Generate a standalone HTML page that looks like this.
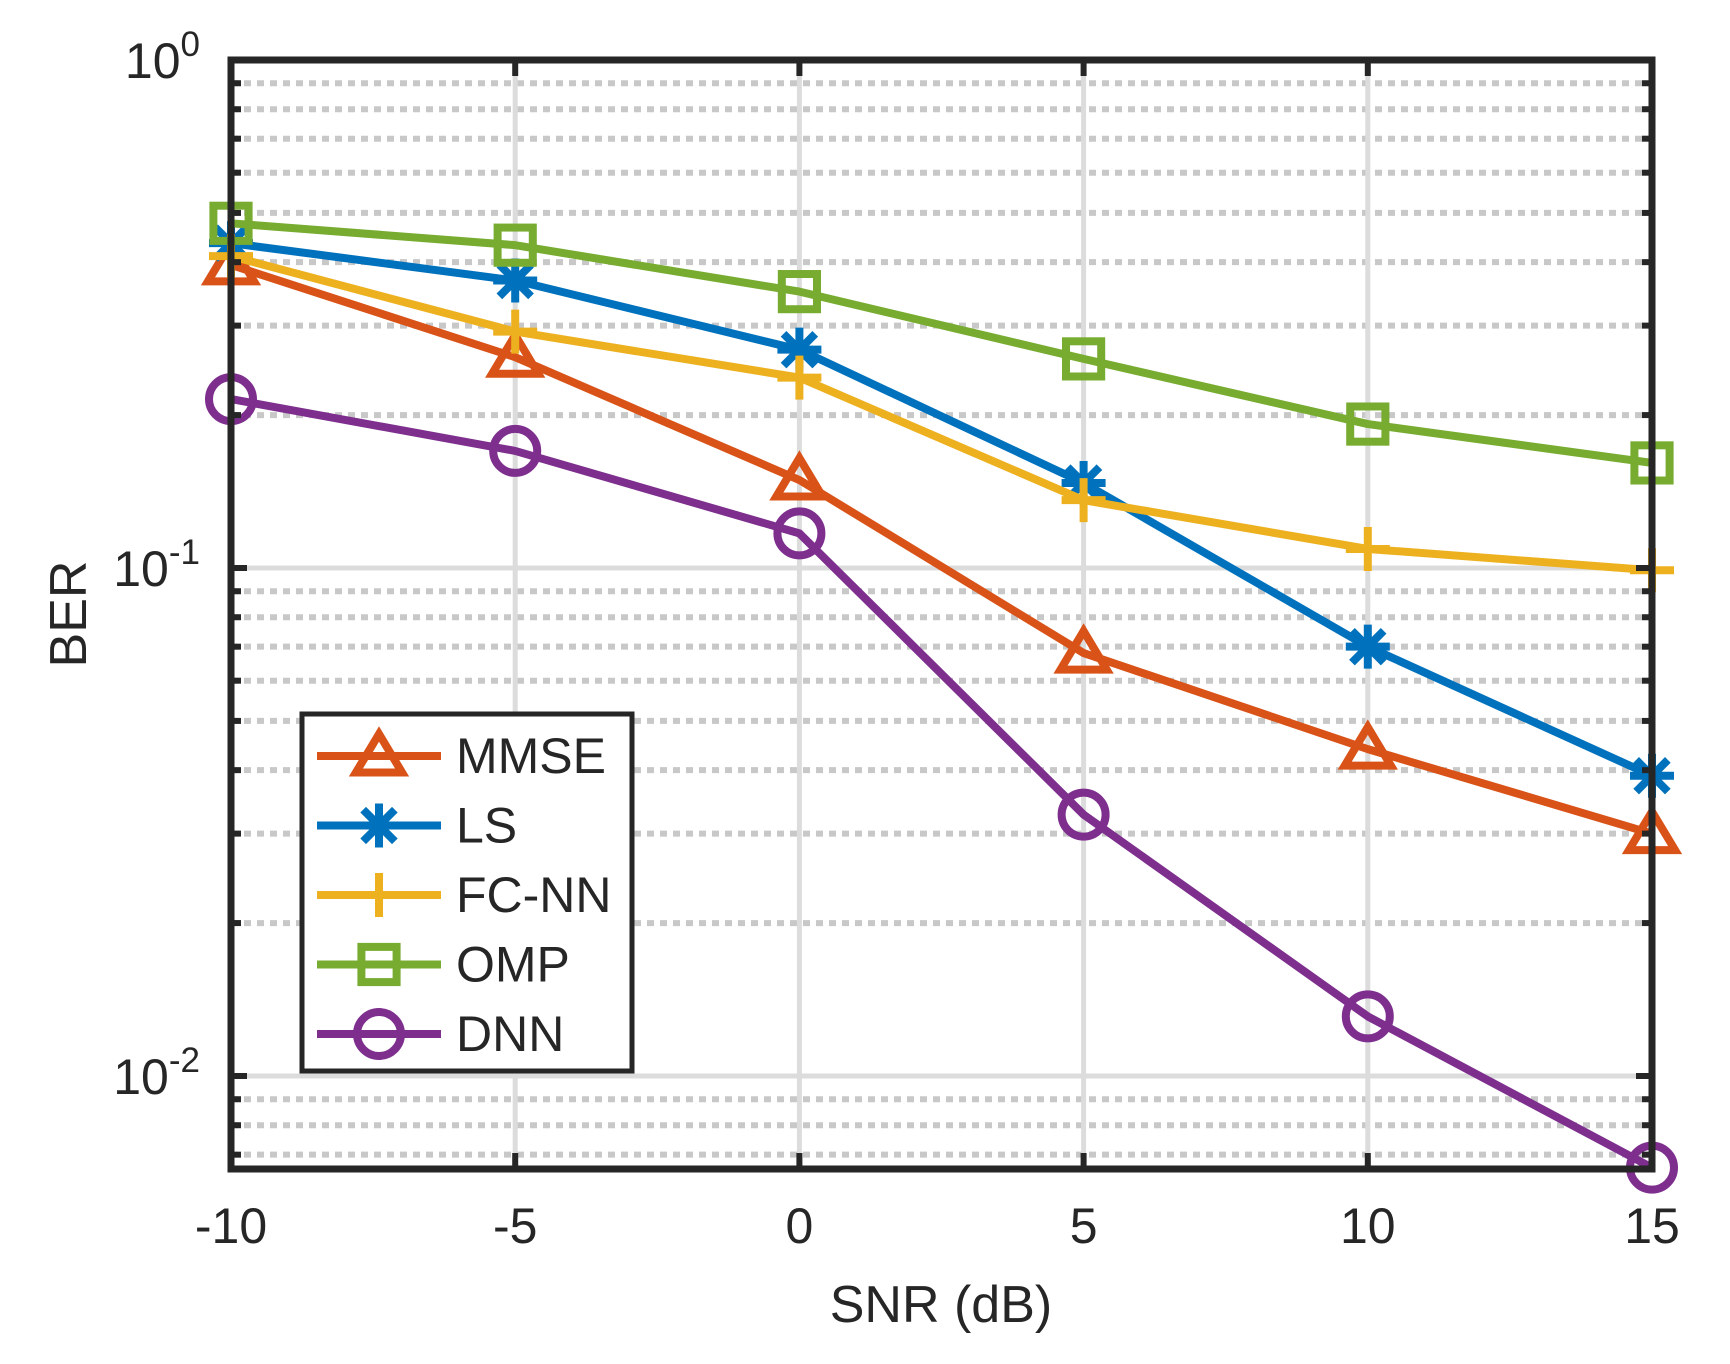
<!DOCTYPE html>
<html><head><meta charset="utf-8"><style>
html,body{margin:0;padding:0;background:#fff;}
svg{display:block;font-family:"Liberation Sans",sans-serif;}
</style></head><body>
<svg id="chart" width="1730" height="1364" viewBox="0 0 1730 1364" xmlns="http://www.w3.org/2000/svg">
<g id="grid"></g>
<g id="series"></g>
<g id="axes"></g>
<text x="941" y="1322" font-size="52" text-anchor="middle" fill="#262626">SNR (dB)</text>
<text x="0" y="0" transform="translate(86,614) rotate(-90)" font-size="52" text-anchor="middle" fill="#262626">BER</text>
<g id="legend"></g>
</svg>
<script>
const snr = [-10, -5, 0, 5, 10, 15];
const seriesNames = ["MMSE", "LS", "FC-NN", "OMP", "DNN"];
const mmse = [0.395, 0.26, 0.149, 0.068, 0.044, 0.030];
const ls = [0.436, 0.368, 0.269, 0.147, 0.070, 0.039];
const fcnn = [0.411, 0.292, 0.237, 0.136, 0.109, 0.099];
const omp = [0.477, 0.432, 0.350, 0.258, 0.192, 0.161];
const dnn = [0.215, 0.170, 0.117, 0.0327, 0.0131, 0.0066];
const xTicks = [-10, -5, 0, 5, 10, 15];
const yDecades = [0, -1, -2];

const NS = "http://www.w3.org/2000/svg";
const L = 231, R = 1652, T = 60, B = 1169;
const yMinLog = Math.log10(0.00656);
const LW = 8;
function xs(v){ return L + (v - (-10)) / 25 * (R - L); }
function ys(v){ return T + (0 - Math.log10(v)) / (0 - yMinLog) * (B - T); }
function mk(tag, attrs, parent){ const e = document.createElementNS(NS, tag); for (const k in attrs) e.setAttribute(k, attrs[k]); parent.appendChild(e); return e; }

const grid = document.getElementById('grid');
const axes = document.getElementById('axes');
for (let d = -3; d < 0; d++) {
  for (let m = 2; m <= 9; m++) {
    const v = m * Math.pow(10, d);
    const y = ys(v);
    if (y < T || y > B) continue;
    const g = mk('line', {x1: L, x2: R, y1: y, y2: y, stroke: '#c8c8c8', 'stroke-width': 6, 'stroke-dasharray': '7 6'}, grid);
    
    
    const t1 = mk('line', {x1: L, x2: L + 10, y1: y, y2: y, stroke: '#262626', 'stroke-width': 6}, axes);
    
    
    const t2 = mk('line', {x1: R, x2: R - 10, y1: y, y2: y, stroke: '#262626', 'stroke-width': 6}, axes);
    
    
  }
}
yDecades.forEach(d => {
  const y = ys(Math.pow(10, d));
  const g = mk('line', {x1: L, x2: R, y1: y, y2: y, stroke: '#dcdcdc', 'stroke-width': 5}, grid);
  
  
  const t1 = mk('line', {x1: L, x2: L + 16, y1: y, y2: y, stroke: '#262626', 'stroke-width': 6}, axes);
  
  
  const t2 = mk('line', {x1: R, x2: R - 16, y1: y, y2: y, stroke: '#262626', 'stroke-width': 6}, axes);
  
  
  const tx = mk('text', {x: 200, y: y + 18, 'font-size': 50, 'text-anchor': 'end', fill: '#262626'}, axes);
  
  
  tx.appendChild(document.createTextNode('10'));
  const sup = mk('tspan', {dy: -22, 'font-size': 35}, tx);
  sup.textContent = String(d);
});
xTicks.forEach(v => {
  const x = xs(v);
  const g = mk('line', {x1: x, x2: x, y1: T, y2: B, stroke: '#dcdcdc', 'stroke-width': 5}, grid);
  
  
  const t1 = mk('line', {x1: x, x2: x, y1: B, y2: B - 16, stroke: '#262626', 'stroke-width': 6}, axes);
  
  
  const t2 = mk('line', {x1: x, x2: x, y1: T, y2: T + 16, stroke: '#262626', 'stroke-width': 6}, axes);
  
  
  const tx = mk('text', {x: x, y: 1243, 'font-size': 50, 'text-anchor': 'middle', fill: '#262626'}, axes);
  
  
  tx.textContent = String(v);
});
const box = mk('rect', {x: L, y: T, width: R - L, height: B - T, fill: 'none', stroke: '#262626', 'stroke-width': 7}, axes);



const colors = ['#D95319', '#0072BD', '#EDB120', '#77AC30', '#7E2F8E'];
const markers = ['tri', 'star', 'plus', 'square', 'circle'];
const allData = [mmse, ls, fcnn, omp, dnn];

function drawMarker(type, x, y, color, parent, s) {
  const st = {fill: 'none', stroke: color, 'stroke-width': LW};
  let e;
  if (type === 'tri') {
    e = mk('polygon', Object.assign({points: `${x},${y - s} ${x - s * 1.05},${y + s * 0.75} ${x + s * 1.05},${y + s * 0.75}`}, st), parent);
  } else if (type === 'square') {
    e = mk('rect', Object.assign({x: x - s * 0.8, y: y - s * 0.8, width: s * 1.6, height: s * 1.6}, st), parent);
  } else if (type === 'circle') {
    e = mk('circle', Object.assign({cx: x, cy: y, r: s}, st), parent);
  } else if (type === 'plus') {
    e = mk('path', Object.assign({d: `M${x - s},${y}H${x + s}M${x},${y - s}V${y + s}`}, st), parent);
  } else {
    const a = s * 0.72;
    e = mk('path', Object.assign({d: `M${x - s},${y}H${x + s}M${x},${y - s}V${y + s}M${x - a},${y - a}L${x + a},${y + a}M${x - a},${y + a}L${x + a},${y - a}`}, st), parent);
  }
  
  
  return e;
}

const sg = document.getElementById('series');
allData.forEach((arr, i) => {
  const g = mk('g', {}, sg);
  
  
  const pts = arr.map((v, j) => xs(snr[j]) + ',' + ys(v)).join(' ');
  const pl = mk('polyline', {points: pts, fill: 'none', stroke: colors[i], 'stroke-width': LW, 'stroke-linejoin': 'round'}, g);
  
  
  arr.forEach((v, j) => drawMarker(markers[i], xs(snr[j]), ys(v), colors[i], g, 22));
});

const lg = document.getElementById('legend');
const lb = mk('rect', {x: 302, y: 714, width: 330, height: 357, fill: '#fff', stroke: '#262626', 'stroke-width': 5}, lg);


seriesNames.forEach((n, i) => {
  const y = 756 + i * 69.5;
  const g = mk('g', {}, lg);
  
  
  mk('line', {x1: 317, x2: 441, y1: y, y2: y, stroke: colors[i], 'stroke-width': LW}, g);
  drawMarker(markers[i], 379, y, colors[i], g, 22);
  const t = mk('text', {x: 456, y: y + 17, 'font-size': 50, fill: '#262626'}, g);
  
  
  t.textContent = n;
});
</script>
</body></html>
